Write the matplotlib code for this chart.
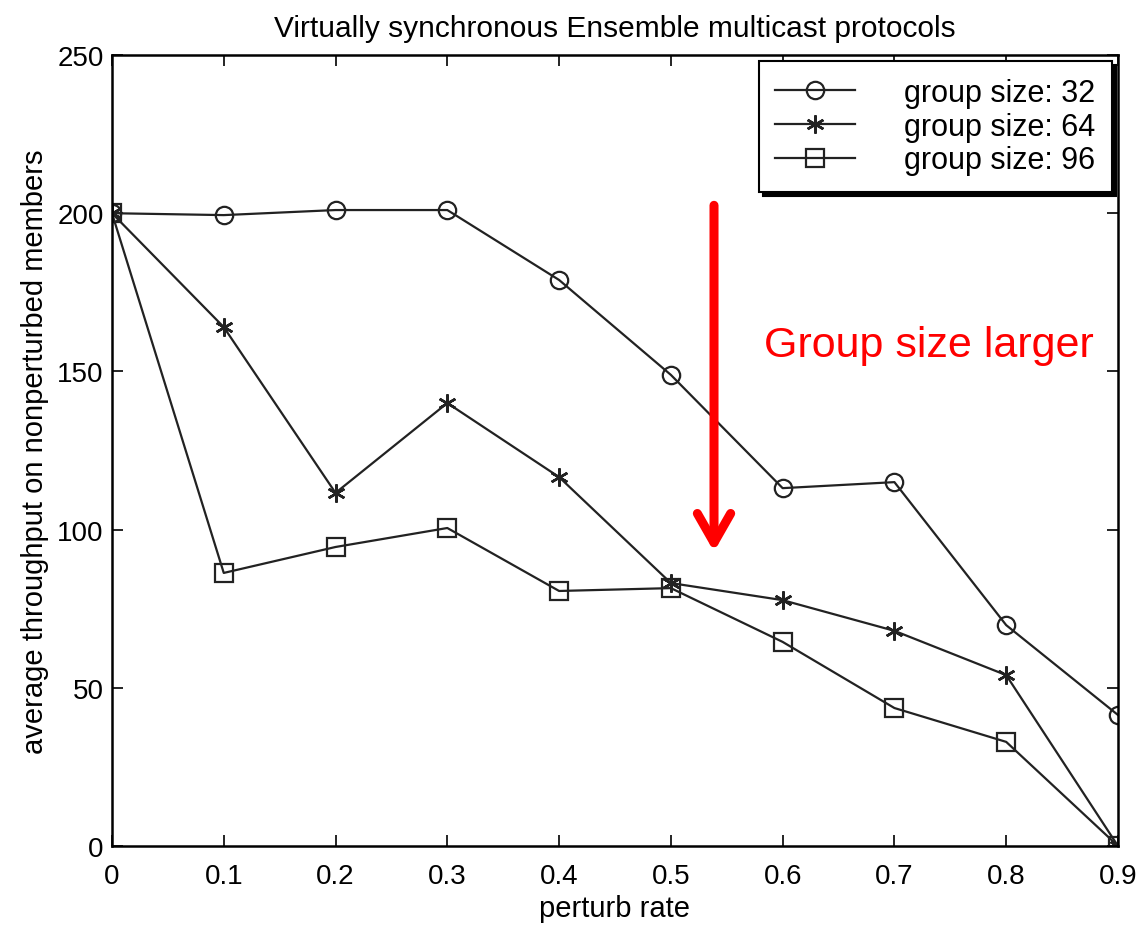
import numpy as np
import matplotlib.pyplot as plt

plt.rcParams['font.family'] = ['Liberation Sans', 'DejaVu Sans']

# taux de perturbation et débit moyen par taille de groupe
perturb_rate = [0, 0.1, 0.2, 0.3, 0.4, 0.5, 0.6, 0.7, 0.8, 0.9]
size_32 = [200, 199.4, 201, 201, 178.9, 148.9, 113.1, 115, 69.8, 41.4]
size_64 = [200, 164, 111.6, 140, 116.6, 83.1, 77.7, 68, 54, 0]
size_96 = [200, 86.3, 94.5, 100.5, 80.6, 81.5, 64.5, 43.6, 32.9, 0]
labels = ['group size: 32', 'group size: 64', 'group size: 96']

fig = plt.figure(figsize=(11.38, 9.29), dpi=100)
ax = fig.add_axes([0.0984, 0.0883, 0.884, 0.8514])

ax.plot(perturb_rate, size_32, color='#222222', lw=1.6, marker='o', ms=12.5,
        mfc='none', mec='#222222', mew=1.6, label=labels[0])
# astérisque façon matlab
ax.plot(perturb_rate, size_64, color='#222222', lw=1.6, marker=(6, 2, 0), ms=13,
        mfc='#222222', mec='#222222', mew=1.8, label=labels[1])
ax.plot(perturb_rate, size_96, color='#222222', lw=1.6, marker='s', ms=13,
        mfc='none', mec='#222222', mew=1.6, label=labels[2])

ax.set_xlim(0, 0.9)
ax.set_ylim(0, 250)
ax.set_xticks(perturb_rate)
ax.set_xticklabels(['0', '0.1', '0.2', '0.3', '0.4', '0.5', '0.6', '0.7', '0.8', '0.9'])
ax.set_yticks([0, 50, 100, 150, 200, 250])
ax.tick_params(direction='in', length=8, width=1.2, top=True, right=True, labelsize=20)
ax.tick_params(axis='x', pad=12)
ax.tick_params(axis='y', pad=6)
for s in ax.spines.values():
    s.set_linewidth(1.8)

ax.set_title('Virtually synchronous Ensemble multicast protocols', fontsize=21.5, pad=14)
ax.set_xlabel('perturb rate', fontsize=21, labelpad=4)
ax.set_ylabel('average throughput on nonperturbed members', fontsize=21, labelpad=6)

leg = ax.legend(loc='upper right', fontsize=22, handlelength=2.6, handletextpad=1.6,
                borderpad=0.55, labelspacing=0.12, borderaxespad=0.2,
                fancybox=False, framealpha=1,
                shadow={'color': 'black', 'alpha': 1, 'ox': 3, 'oy': -3},
                bbox_to_anchor=(1.0, 1.0))
leg.get_frame().set_edgecolor('black')
leg.get_frame().set_linewidth(1.5)

# flèche rouge : la taille du groupe augmente
ax.annotate('', xy=(0.5386, 93), xytext=(0.5386, 202.5),
            arrowprops=dict(arrowstyle='->, head_length=2.1, head_width=1.2',
                            color='red', lw=6.5, shrinkA=0, shrinkB=0))
ax.text(0.583, 158.5, 'Group size larger', color='red', fontsize=31,
        ha='left', va='center')

fig.savefig('out.png', dpi=100)
